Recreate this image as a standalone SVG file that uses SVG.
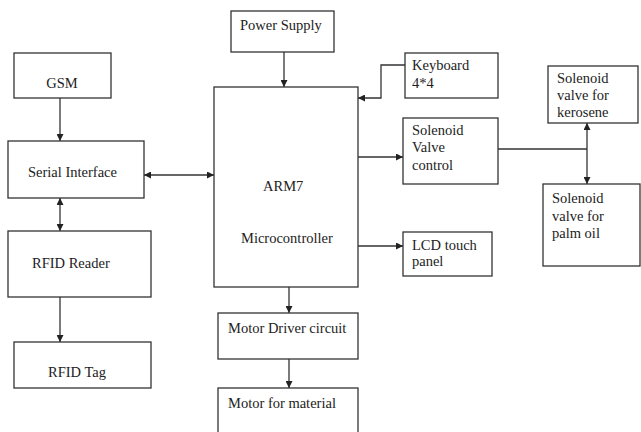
<svg xmlns="http://www.w3.org/2000/svg" width="641" height="432" viewBox="0 0 641 432">
<style>
.b{fill:#fff;stroke:#333;stroke-width:1.3}
.t{font-family:"Liberation Serif","Times New Roman",serif;font-size:14.5px;fill:#222}
.c{fill:none;stroke:#333;stroke-width:1.3}
</style>
<defs>
<marker id="a" viewBox="0 0 10 10" refX="10" refY="5" markerWidth="7" markerHeight="7" markerUnits="userSpaceOnUse" orient="auto-start-reverse"><path d="M0,0L10,5L0,10z" fill="#222"/></marker>
</defs>
<rect width="641" height="432" fill="#fff"/>
<g id="connectors">
<line class="c" x1="60" y1="98" x2="60" y2="141" marker-end="url(#a)"/>
<line class="c" x1="144" y1="175" x2="214" y2="175" marker-start="url(#a)" marker-end="url(#a)"/>
<line class="c" x1="60" y1="198" x2="60" y2="231" marker-start="url(#a)" marker-end="url(#a)"/>
<line class="c" x1="60" y1="297" x2="60" y2="342" marker-end="url(#a)"/>
<line class="c" x1="284" y1="52" x2="284" y2="87" marker-end="url(#a)"/>
<polyline class="c" points="405,65 381,65 381,98 358,98" marker-end="url(#a)"/>
<line class="c" x1="358" y1="157" x2="403" y2="157" marker-end="url(#a)"/>
<line class="c" x1="358" y1="246" x2="403" y2="246" marker-end="url(#a)"/>
<line class="c" x1="498" y1="149" x2="587" y2="149"/>
<line class="c" x1="587" y1="149" x2="587" y2="123" marker-end="url(#a)"/>
<line class="c" x1="587" y1="149" x2="587" y2="184" marker-end="url(#a)"/>
<line class="c" x1="289" y1="287" x2="289" y2="313" marker-end="url(#a)"/>
<line class="c" x1="289" y1="359" x2="289" y2="388" marker-end="url(#a)"/>
</g>
<g id="gsm"><rect class="b" x="14" y="53" width="97" height="45"/><text class="t" x="62" y="88" text-anchor="middle">GSM</text></g>
<g id="serial"><rect class="b" x="8" y="141" width="136" height="57"/><text class="t" x="28" y="177">Serial Interface</text></g>
<g id="rfidreader"><rect class="b" x="8" y="231" width="143" height="66"/><text class="t" x="32" y="268">RFID Reader</text></g>
<g id="rfidtag"><rect class="b" x="14" y="342" width="137" height="46"/><text class="t" x="48" y="377">RFID Tag</text></g>
<g id="power"><rect class="b" x="231" y="11" width="103" height="41"/><text class="t" x="240" y="30">Power Supply</text></g>
<g id="arm"><rect class="b" x="214" y="87" width="144" height="200"/><text class="t" x="263" y="191">ARM7</text><text class="t" x="241" y="243">Microcontroller</text></g>
<g id="keyboard"><rect class="b" x="405" y="53" width="93" height="45"/><text class="t" x="412" y="70">Keyboard</text><text class="t" x="412" y="88">4*4</text></g>
<g id="svc"><rect class="b" x="403" y="118" width="95" height="66"/><text class="t" x="412" y="135">Solenoid</text><text class="t" x="412" y="152">Valve</text><text class="t" x="412" y="170">control</text></g>
<g id="lcd"><rect class="b" x="403" y="232" width="89" height="44"/><text class="t" x="412" y="250">LCD touch</text><text class="t" x="412" y="266">panel</text></g>
<g id="kerosene"><rect class="b" x="548" y="66" width="90" height="57"/><text class="t" x="557" y="83">Solenoid</text><text class="t" x="557" y="100">valve for</text><text class="t" x="557" y="117">kerosene</text></g>
<g id="palmoil"><rect class="b" x="543" y="184" width="97" height="82"/><text class="t" x="552" y="203">Solenoid</text><text class="t" x="552" y="221">valve for</text><text class="t" x="552" y="238">palm oil</text></g>
<g id="motordriver"><rect class="b" x="218" y="313" width="140" height="46"/><text class="t" x="228" y="333">Motor Driver circuit</text></g>
<g id="motor"><rect class="b" x="218" y="388" width="140" height="50"/><text class="t" x="228" y="408">Motor for material</text></g>
</svg>
